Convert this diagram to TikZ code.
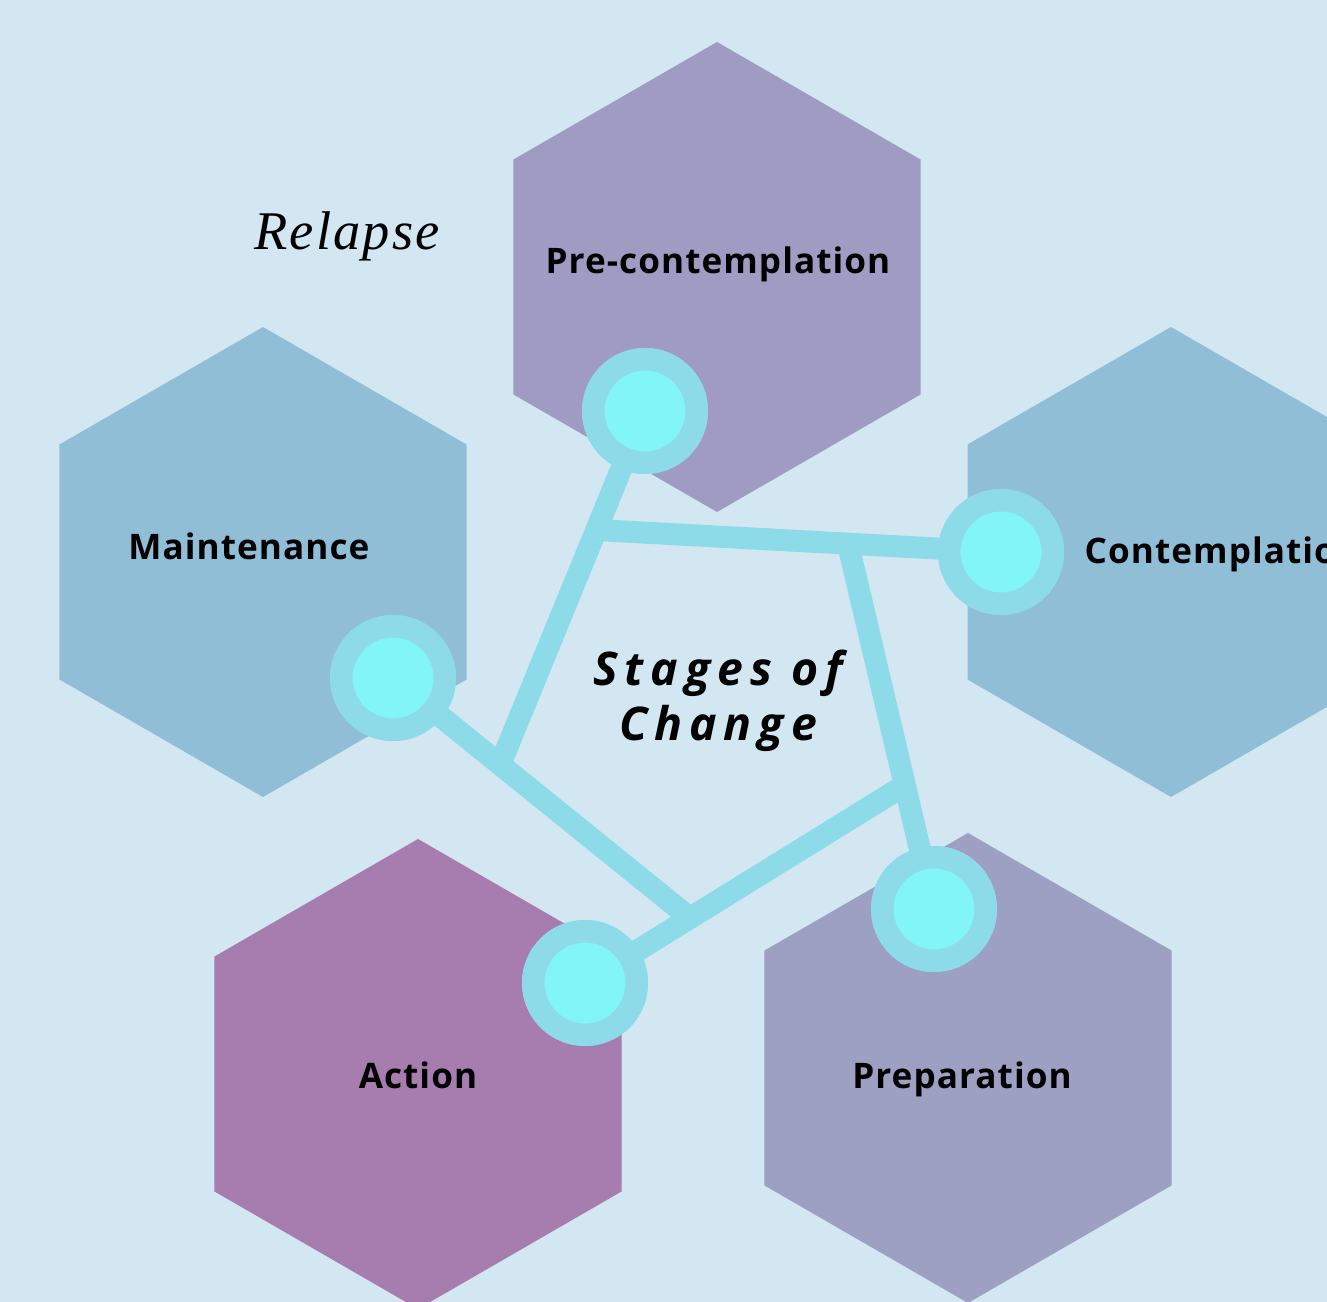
\documentclass[tikz,border=0pt]{standalone}
\usepackage{fontspec}
\setmainfont{Open Sans}[LetterSpace=3]
\newfontfamily\titlefont{Open Sans}[LetterSpace=15]
\newfontfamily\relapsefont{Liberation Serif}[LetterSpace=4]
\usetikzlibrary{shapes.geometric}
\definecolor{bg}{HTML}{D2E7F2}
\definecolor{precon}{HTML}{A09BC3}
\definecolor{steel}{HTML}{90BED6}
\definecolor{mauve}{HTML}{A67DAE}
\definecolor{lilac}{HTML}{9D9FC3}
\definecolor{ring}{HTML}{8DDBE9}
\definecolor{core}{HTML}{82F5F8}
\begin{document}
\begin{tikzpicture}[x=0.1mm, y=-0.1mm]
\tikzstyle{hex} = [regular polygon, regular polygon sides=6, shape border rotate=30, minimum size=47mm, inner sep=0, outer sep=0];
\tikzstyle{stage} = [font=\bfseries\fontsize{10}{12}\selectfont, anchor=base, inner sep=0];
\tikzstyle{link} = [draw=ring, line width=2.2mm];
\tikzstyle{dot} = [circle, draw=ring, fill=core, line width=2.25mm, minimum size=10.35mm, inner sep=0];
\useasboundingbox (0,0) rectangle (1327,1302);
\fill[bg] (0,0) rectangle (1327,1302);
\clip (0,0) rectangle (1327,1302);
% hexagons
\node[hex, fill=precon] (hpc) at (717,277) {};
\node[hex, fill=steel] (hmt) at (263,562) {};
\node[hex, fill=steel] (hct) at (1171,562) {};
\node[hex, fill=mauve] (hac) at (418,1074) {};
\node[hex, fill=lilac] (hpr) at (968,1068) {};
% junctions
\coordinate (j1) at (500,765);
\coordinate (j2) at (690,918);
\coordinate (j3) at (905,785);
\coordinate (j4) at (596,530);
\coordinate (j5) at (848,544);
% circles
\node[dot] (pc) at (645,411) {};
\node[dot] (ct) at (1001,552) {};
\node[dot] (pr) at (934,909) {};
\node[dot] (ac) at (585,983) {};
\node[dot] (mt) at (393,678) {};
\draw[link] (pc.center) -- (j1);
\draw[link] (j4) -- (ct.center);
\draw[link] (j5) -- (pr.center);
\draw[link] (ac.center) -- (j3);
\draw[link] (mt.center) -- (j2);
% circles again on top of the links
\node[dot] at (pc) {};
\node[dot] at (ct) {};
\node[dot] at (pr) {};
\node[dot] at (ac) {};
\node[dot] at (mt) {};
% labels
\node[stage] (lpc) at (718,274) {Pre-contemplation};
\node[stage] (lmt) at (249,560) {Maintenance};
\node[stage, anchor=base west] (lct) at (1084,564) {Contemplation};
\node[stage] (lac) at (418,1088) {Action};
\node[stage] (lpr) at (962,1088) {Preparation};
\node[font=\titlefont\bfseries\itshape\fontsize{13.2}{15.8}\selectfont, align=center, anchor=base, inner sep=0] (title) at (718,741) {Stages of\\Change};
\node[font=\relapsefont\itshape\fontsize{15.5}{18}\selectfont, anchor=base, inner sep=0] (relapse) at (347,250) {Relapse};
\end{tikzpicture}
\end{document}
